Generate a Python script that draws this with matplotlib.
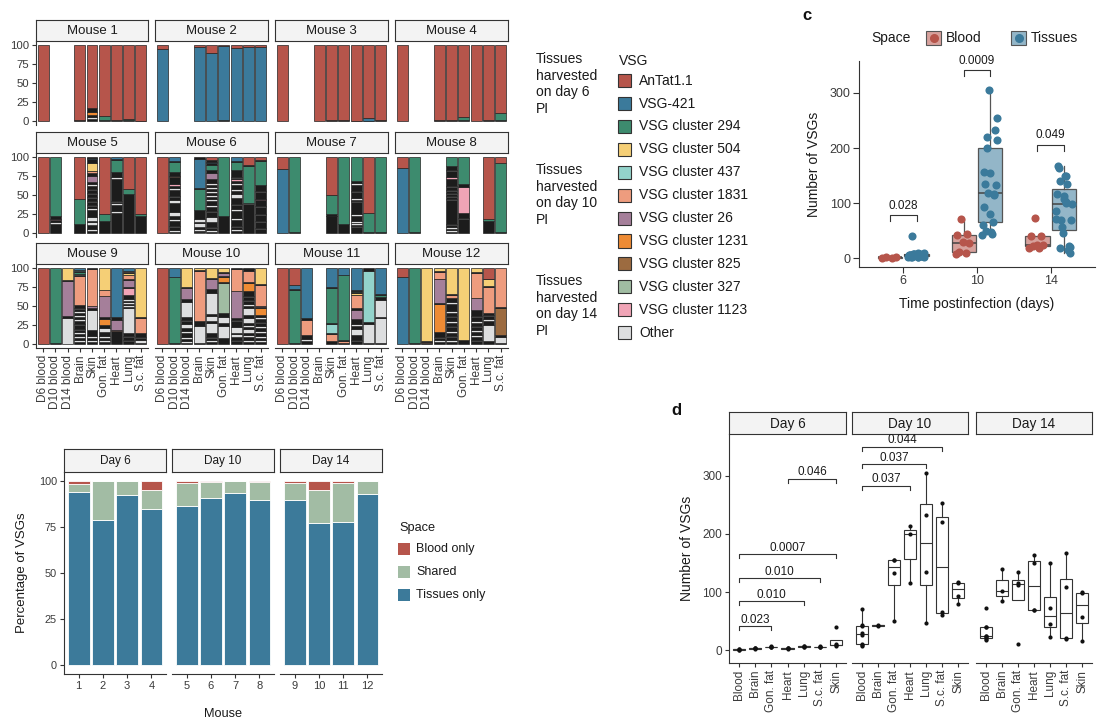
import numpy as np
import matplotlib
matplotlib.use("Agg")
import matplotlib.pyplot as plt
from matplotlib.patches import Rectangle
from matplotlib.lines import Line2D
from matplotlib.colors import to_rgba

plt.rcParams['font.family'] = ['Liberation Sans', 'DejaVu Sans']

W, H = 1111, 724

# ---------------- data ----------------
samples = ["D6 blood", "D10 blood", "D14 blood", "Brain", "Skin",
           "Gon. fat", "Heart", "Lung", "S.c. fat"]

vsg_keys = ["A", "V", "294", "504", "437", "1831", "26", "1231", "825", "327", "1123", "O"]
vsg_labels = ["AnTat1.1", "VSG-421", "VSG cluster 294", "VSG cluster 504",
              "VSG cluster 437", "VSG cluster 1831", "VSG cluster 26",
              "VSG cluster 1231", "VSG cluster 825", "VSG cluster 327",
              "VSG cluster 1123", "Other"]
vsg_colors = {"A": "#B6554B", "V": "#3B7A9B", "294": "#3D8B6E", "504": "#F5CF76",
              "437": "#93D3CB", "1831": "#EE9C7E", "26": "#A57F9A", "1231": "#EE8B34",
              "825": "#9C6B40", "327": "#A0BCA2", "1123": "#F0A4B6", "O": "#DDDEDF",
              "k": "#1c1c1c"}  # "k" = many tiny VSGs (outlines merge to black)

# segments bottom -> top, (vsg, percent)
mouse1 = {
    "D6 blood": [("A", 100)],
    "Brain": [("k", 2), ("A", 98)],
    "Skin": [("k", 3), ("O", 3), ("k", 2), ("1231", 4), ("k", 5), ("A", 83)],
    "Gon. fat": [("k", 1), ("294", 5.5), ("A", 93.5)],
    "Heart": [("k", 1), ("A", 99)],
    "Lung": [("k", 1), ("294", 2.5), ("A", 96.5)],
    "S.c. fat": [("k", 0.5), ("A", 99.5)],
}
mouse2 = {
    "D6 blood": [("V", 94), ("A", 6)],
    "Brain": [("V", 97), ("A", 3)],
    "Skin": [("V", 89), ("A", 11)],
    "Gon. fat": [("k", 1), ("V", 97), ("A", 2)],
    "Heart": [("V", 96), ("A", 4)],
    "Lung": [("V", 97.5), ("A", 2.5)],
    "S.c. fat": [("V", 97.5), ("A", 2.5)],
}
mouse3 = {
    "D6 blood": [("A", 100)],
    "Brain": [("A", 100)],
    "Skin": [("k", 1), ("A", 99)],
    "Gon. fat": [("k", 1), ("A", 99)],
    "Heart": [("k", 0.5), ("A", 99.5)],
    "Lung": [("k", 0.5), ("V", 3.5), ("A", 96)],
    "S.c. fat": [("k", 1), ("A", 99)],
}
mouse4 = {
    "D6 blood": [("A", 100)],
    "Brain": [("k", 1), ("A", 99)],
    "Skin": [("k", 1), ("A", 99)],
    "Gon. fat": [("k", 1), ("294", 4.5), ("A", 94.5)],
    "Heart": [("A", 100)],
    "Lung": [("k", 1), ("A", 99)],
    "S.c. fat": [("k", 1), ("294", 9.5), ("A", 89.5)],
}
mouse5 = {
    "D6 blood": [("A", 100)],
    "D10 blood": [("k", 12), ("O", 2), ("k", 3), ("1123", 2), ("k", 4), ("294", 77)],
    "Brain": [("k", 12), ("294", 33), ("A", 55)],
    "Skin": [("k", 3), ("O", 2), ("k", 5), ("O", 4), ("k", 1), ("O", 5), ("k", 9), ("O", 2),
             ("k", 2), ("O", 2), ("k", 3), ("O", 2), ("k", 3), ("O", 2), ("k", 3), ("O", 2),
             ("k", 3), ("O", 2), ("k", 3), ("O", 2), ("k", 3), ("26", 8), ("k", 3), ("1831", 2),
             ("k", 1), ("504", 9), ("k", 5), ("V", 2), ("k", 1)],
    "Gon. fat": [("k", 16), ("294", 9), ("A", 75)],
    "Heart": [("k", 27), ("O", 2), ("k", 9), ("O", 2), ("k", 1), ("O", 2), ("k", 30), ("O", 2),
              ("k", 7), ("294", 16), ("k", 1), ("V", 3)],
    "Lung": [("k", 51), ("294", 7), ("A", 42)],
    "S.c. fat": [("k", 22), ("294", 3), ("A", 75)],
}
mouse6 = {
    "D6 blood": [("A", 100)],
    "D10 blood": [("k", 2), ("O", 2), ("k", 4), ("O", 2), ("k", 6), ("O", 3), ("k", 4), ("O", 5),
                  ("k", 13), ("O", 3), ("k", 4), ("O", 2), ("k", 8), ("O", 2), ("k", 4),
                  ("1123", 2), ("k", 9), ("1831", 1.5), ("k", 6), ("294", 13), ("k", 1), ("V", 6)],
    "Brain": [("O", 2), ("k", 1), ("O", 3), ("k", 2), ("O", 5), ("k", 2), ("O", 3), ("k", 12),
              ("294", 28), ("k", 1), ("V", 38), ("k", 3)],
    "Skin": [("k", 2), ("O", 2), ("k", 2), ("O", 2), ("k", 6), ("O", 6), ("k", 6), ("O", 2),
             ("k", 4), ("O", 3), ("k", 5), ("O", 2), ("k", 3), ("O", 2), ("k", 3), ("O", 2),
             ("k", 3), ("O", 2), ("k", 3), ("O", 2), ("k", 6), ("26", 7), ("k", 3), ("294", 7),
             ("k", 2), ("V", 2), ("k", 2), ("A", 4)],
    "Gon. fat": [("k", 23), ("294", 77)],
    "Heart": [("k", 3), ("O", 2), ("k", 3), ("O", 2), ("k", 8), ("O", 2), ("k", 10), ("O", 2),
              ("k", 5), ("O", 2), ("k", 8), ("O", 6), ("k", 4), ("O", 2), ("k", 6), ("O", 2),
              ("k", 3), ("1123", 2), ("k", 2), ("O", 1), ("k", 9), ("294", 11), ("k", 1), ("V", 6)],
    "Lung": [("k", 38), ("O", 2), ("294", 48), ("k", 1), ("A", 11)],
    "S.c. fat": [("k", 5), ("O", 2), ("k", 8), ("O", 1), ("k", 8), ("O", 1), ("k", 10), ("O", 1),
                 ("k", 8), ("1123", 1), ("k", 10), ("O", 1), ("k", 8), ("294", 32), ("k", 1), ("A", 4)],
}
mouse7 = {
    "D6 blood": [("V", 84), ("A", 16)],
    "D10 blood": [("k", 1), ("294", 99)],
    "Skin": [("k", 22), ("O", 1), ("k", 2), ("294", 25), ("A", 50)],
    "Gon. fat": [("k", 12), ("294", 88)],
    "Heart": [("k", 8), ("O", 2), ("k", 1), ("O", 2), ("k", 1), ("O", 2), ("k", 7), ("O", 2),
              ("k", 16), ("O", 2), ("k", 1), ("O", 2), ("k", 8), ("O", 2), ("k", 8), ("O", 2),
              ("k", 3), ("294", 32)],
    "Lung": [("k", 2), ("294", 25), ("A", 73)],
    "S.c. fat": [("k", 2), ("294", 98)],
}
mouse8 = {
    "D6 blood": [("V", 86), ("A", 14)],
    "D10 blood": [("k", 1), ("294", 99)],
    "Skin": [("k", 2), ("O", 2), ("k", 2), ("O", 2), ("k", 2), ("O", 2), ("k", 30), ("O", 2),
             ("k", 2), ("O", 2), ("k", 2), ("O", 2), ("k", 2), ("O", 2), ("k", 3), ("O", 2),
             ("k", 8), ("1123", 3), ("k", 8), ("O", 1), ("k", 5), ("294", 12)],
    "Gon. fat": [("k", 18), ("O", 2), ("k", 6), ("1123", 35), ("k", 4), ("294", 35)],
    "Lung": [("k", 16), ("294", 2), ("A", 82)],
    "S.c. fat": [("k", 2), ("294", 90), ("A", 8)],
}
mouse9 = {
    "D6 blood": [("A", 100)],
    "D10 blood": [("k", 1), ("294", 99)],
    "D14 blood": [("O", 34), ("k", 3), ("26", 46), ("k", 1), ("504", 16)],
    "Brain": [("k", 3), ("O", 2), ("k", 3), ("O", 2), ("k", 3), ("O", 2), ("k", 3), ("O", 2),
              ("k", 4), ("O", 2), ("k", 4), ("O", 2), ("k", 3), ("O", 2), ("k", 3), ("O", 2),
              ("k", 3), ("O", 2), ("k", 3), ("1831", 37), ("k", 2), ("327", 1.5), ("294", 2),
              ("k", 1.5), ("437", 1), ("V", 3)],
    "Skin": [("k", 3), ("O", 2), ("k", 3), ("O", 2), ("k", 8), ("O", 25), ("k", 3), ("26", 3),
             ("1831", 46), ("k", 2)],
    "Gon. fat": [("k", 3), ("O", 2), ("k", 3), ("O", 2), ("k", 5), ("O", 6), ("k", 4),
                 ("1231", 7), ("k", 2), ("26", 27), ("1831", 8), ("504", 28)],
    "Heart": [("k", 17), ("1831", 1.5), ("26", 13), ("k", 4), ("V", 64.5)],
    "Lung": [("k", 4), ("O", 2), ("k", 3), ("O", 2), ("k", 3), ("O", 33), ("k", 2), ("O", 2),
             ("k", 2), ("O", 2), ("k", 2), ("O", 2), ("k", 6), ("1123", 8), ("k", 2), ("26", 9),
             ("k", 2), ("1831", 4), ("504", 3), ("k", 1), ("1831", 2), ("V", 4)],
    "S.c. fat": [("k", 2), ("O", 3), ("k", 3), ("O", 2), ("k", 4), ("1831", 20), ("k", 1), ("504", 65)],
}
mouse10 = {
    "D6 blood": [("A", 100)],
    "D10 blood": [("k", 1), ("294", 87), ("V", 12)],
    "D14 blood": [("k", 2), ("O", 2), ("k", 3), ("O", 2), ("k", 6), ("O", 2), ("k", 4), ("O", 6),
                  ("k", 3), ("O", 2), ("k", 3), ("O", 20), ("k", 4), ("26", 14), ("k", 2), ("504", 25)],
    "Brain": [("k", 2), ("O", 22), ("k", 6), ("1831", 66), ("k", 1), ("504", 3)],
    "Skin": [("k", 3), ("O", 2), ("k", 3), ("O", 2), ("k", 4), ("O", 14), ("k", 3), ("O", 6),
             ("k", 2), ("O", 28), ("k", 5), ("26", 13), ("k", 2), ("504", 13)],
    "Gon. fat": [("k", 8), ("O", 15), ("k", 4), ("O", 8), ("k", 5), ("327", 39), ("k", 1),
                 ("1231", 7), ("k", 2), ("26", 3), ("k", 1), ("504", 6)],
    "Heart": [("k", 4), ("O", 2), ("k", 4), ("O", 3), ("k", 2), ("O", 8), ("k", 7), ("O", 2),
              ("k", 2), ("26", 37), ("1831", 29), ("k", 1)],
    "Lung": [("k", 3), ("O", 2), ("k", 4), ("O", 2), ("k", 3), ("O", 4), ("k", 3), ("O", 2),
             ("k", 3), ("O", 6), ("k", 4), ("O", 8), ("k", 3), ("O", 2), ("k", 3), ("O", 2),
             ("k", 3), ("O", 2), ("k", 6), ("1231", 9), ("k", 2), ("1831", 13), ("k", 2),
             ("504", 1), ("k", 1)],
    "S.c. fat": [("k", 3), ("O", 2), ("k", 3), ("O", 2), ("k", 4), ("O", 3), ("k", 4), ("O", 2),
                 ("k", 4), ("O", 2), ("k", 4), ("O", 2), ("k", 3), ("1231", 9), ("k", 1),
                 ("26", 2), ("1831", 27), ("k", 1), ("504", 21)],
}
mouse11 = {
    "D6 blood": [("A", 100)],
    "D10 blood": [("k", 2), ("294", 69), ("k", 1), ("V", 6), ("A", 22)],
    "D14 blood": [("k", 4), ("O", 3), ("k", 5), ("1831", 20), ("k", 2), ("V", 66)],
    "Skin": [("k", 4), ("1831", 9), ("k", 2), ("437", 12), ("k", 1), ("294", 46), ("k", 1), ("V", 25)],
    "Gon. fat": [("k", 1), ("1831", 3), ("k", 1), ("294", 86), ("V", 9)],
    "Heart": [("k", 4), ("O", 2), ("k", 6), ("O", 8), ("k", 4), ("O", 2), ("k", 7), ("26", 12),
              ("k", 2), ("1831", 17), ("k", 1), ("504", 2), ("k", 1), ("294", 2), ("k", 1), ("V", 29)],
    "Lung": [("k", 1), ("O", 25), ("k", 3), ("437", 67), ("k", 4)],
    "S.c. fat": [("k", 2), ("O", 32), ("k", 2), ("O", 22), ("k", 4), ("294", 2), ("k", 2), ("V", 34)],
}
mouse12 = {
    "D6 blood": [("V", 88), ("A", 12)],
    "D10 blood": [("k", 1), ("294", 99)],
    "D14 blood": [("k", 1), ("1831", 2), ("k", 1), ("504", 96)],
    "Brain": [("k", 3), ("O", 2), ("k", 3), ("O", 2), ("k", 6), ("1231", 37), ("k", 1), ("26", 31),
              ("k", 1), ("1831", 8), ("k", 2), ("504", 4)],
    "Skin": [("k", 3), ("O", 2), ("k", 4), ("O", 2), ("k", 4), ("O", 2), ("k", 5), ("O", 2),
             ("k", 4), ("O", 2), ("k", 5), ("O", 2), ("k", 4), ("O", 2), ("k", 10), ("O", 2),
             ("k", 6), ("1831", 4), ("k", 1), ("504", 34)],
    "Gon. fat": [("k", 5), ("504", 95)],
    "Heart": [("k", 4), ("O", 2), ("k", 4), ("O", 2), ("k", 4), ("O", 2), ("k", 4), ("O", 2),
              ("k", 4), ("O", 2), ("k", 5), ("O", 2), ("k", 8), ("26", 16), ("1831", 32), ("k", 1),
              ("504", 6)],
    "Lung": [("k", 4), ("O", 21), ("k", 5), ("O", 2), ("k", 4), ("O", 2), ("k", 3), ("1831", 33),
             ("k", 1), ("504", 9), ("k", 1), ("A", 14)],
    "S.c. fat": [("k", 2), ("O", 8), ("k", 2), ("825", 36), ("k", 1), ("1831", 51)],
}
mice = [mouse1, mouse2, mouse3, mouse4, mouse5, mouse6,
        mouse7, mouse8, mouse9, mouse10, mouse11, mouse12]

# panel b: percentage of VSGs per mouse
b_mouse = [1, 2, 3, 4, 5, 6, 7, 8, 9, 10, 11, 12]
tissues_only = [94.2, 78.6, 92.7, 85.1, 86.6, 91.1, 93.5, 89.7, 89.8, 77.1, 77.9, 93.1]
shared = [4.0, 21.4, 7.3, 10.0, 12.3, 8.4, 6.5, 9.9, 9.3, 18.0, 21.2, 6.9]
blood_only = [1.8, 0.0, 0.0, 4.9, 1.1, 0.5, 0.0, 0.4, 0.9, 4.9, 0.9, 0.0]
space_colors = {"Blood only": "#B6554B", "Shared": "#A2BCA4", "Tissues only": "#3C7A9A"}

# panels c/d: number of VSGs per sample
d_sites = ["Blood", "Brain", "Gon. fat", "Heart", "Lung", "S.c. fat", "Skin"]
counts_day6 = {
    "Blood": [1, 1, 2, 2], "Brain": [2, 3, 3, 4], "Gon. fat": [5, 6, 6, 7],
    "Heart": [2, 3, 3, 4], "Lung": [5, 6, 7, 7], "S.c. fat": [5, 6, 6, 7],
    "Skin": [8, 9, 10, 40],
}
counts_day10 = {
    "Blood": [8, 9, 11, 27, 29, 42, 44, 71], "Brain": [42, 44],
    "Gon. fat": [50, 133, 155, 156], "Heart": [115, 200, 214],
    "Lung": [47, 135, 233, 305], "S.c. fat": [60, 66, 220, 254],
    "Skin": [80, 93, 116, 118],
}
counts_day14 = {
    "Blood": [18, 19, 22, 24, 24, 40, 40, 73], "Brain": [85, 102, 140],
    "Gon. fat": [10, 113, 116, 134], "Heart": [69, 70, 150, 163],
    "Lung": [22, 45, 72, 150], "S.c. fat": [19, 21, 108, 168],
    "Skin": [15, 57, 98, 100],
}
days = [6, 10, 14]
day_counts = [counts_day6, counts_day10, counts_day14]
c_pvals = ["0.028", "0.0009", "0.049"]
c_bracket_y = [78, 341, 206]
d_tests = {
    6: [("Blood", "Gon. fat", 41, "0.023"), ("Blood", "Lung", 84, "0.010"),
        ("Blood", "S.c. fat", 124, "0.010"), ("Blood", "Skin", 165, "0.0007"),
        ("Heart", "Skin", 295, "0.046")],
    10: [("Blood", "Heart", 283, "0.037"), ("Blood", "Lung", 320, "0.037"),
         ("Blood", "S.c. fat", 350, "0.044")],
    14: [],
}

# ---------------- helpers ----------------
TXT = "#1a1a1a"
TCK = "#3a3a3a"


def box(x0, y0, x1, y1):
    return [x0 / W, 1 - y1 / H, (x1 - x0) / W, (y1 - y0) / H]


def strip(x0, y0, x1, y1, label, size):
    s = fig.add_axes(box(x0, y0, x1, y1))
    s.set_facecolor("#F3F3F3")
    s.set_xticks([])
    s.set_yticks([])
    for sp in s.spines.values():
        sp.set_linewidth(0.8)
        sp.set_color("#333333")
    s.text(0.5, 0.47, label, ha="center", va="center", fontsize=size, color=TXT,
           transform=s.transAxes)


def style(ax, left, bottom, size):
    for side in ["top", "right"]:
        ax.spines[side].set_visible(False)
    ax.spines["left"].set_visible(left)
    ax.spines["bottom"].set_visible(bottom)
    for side in ["left", "bottom"]:
        ax.spines[side].set_linewidth(0.8)
        ax.spines[side].set_color("#333333")
    ax.tick_params(length=3, width=0.8, color="#333333", labelcolor=TCK,
                   labelsize=size, pad=2)
    ax.set_facecolor("none")


def bracket(ax, x1, x2, y, depth, label, size, gap):
    ax.plot([x1, x1, x2, x2], [y - depth, y, y, y - depth], color="#333333",
            lw=0.8, clip_on=False)
    ax.text((x1 + x2) / 2, y + gap, label, ha="center", va="center",
            fontsize=size, color=TXT, clip_on=False)


def swatch(x0, y0, x1, y1, color, edge="#333333"):
    fig.add_artist(Rectangle((x0 / W, 1 - y1 / H), (x1 - x0) / W, (y1 - y0) / H,
                             facecolor=color, edgecolor=edge, lw=0.8,
                             transform=fig.transFigure))


fig = plt.figure(figsize=(W / 100, H / 100), dpi=100)

# ---------------- panel a ----------------
a_cols = [(36, 148), (155, 268), (275, 388), (395, 508)]
a_rows = [(20, 41, 125), (132, 153, 237), (243, 264, 348)]
for i, m in enumerate(mice):
    r, c = divmod(i, 4)
    x0, x1 = a_cols[c]
    s0, top, bot = a_rows[r]
    strip(x0, s0, x1, top, f"Mouse {i + 1}", 9.5)
    ax = fig.add_axes(box(x0, top, x1, bot))
    for j, name in enumerate(samples):
        if name not in m:
            continue
        segs = m[name]
        total = sum(v for _, v in segs)
        base = 0.0
        for key, v in segs:
            h = v / total * 100
            ax.bar(j + 1, h, bottom=base, width=0.9, color=vsg_colors[key],
                   edgecolor="#222222", linewidth=0.5)
            base += h
    ax.set_xlim(0.4, 9.6)
    ax.set_ylim(-5, 105)
    style(ax, c == 0, r == 2, 8.2)
    if c == 0:
        ax.set_yticks([0, 25, 50, 75, 100])
    else:
        ax.set_yticks([])
    if r == 2:
        ax.set_xticks(range(1, 10))
        ax.set_xticklabels(samples, rotation=90, fontsize=8.5)
    else:
        ax.set_xticks([])

for yc, d in zip([84, 195, 306], [6, 10, 14]):
    fig.text(536 / W, 1 - yc / H, f"Tissues\nharvested\non day {d}\nPI", fontsize=10,
             color=TXT, ha="left", va="center", linespacing=1.25)

fig.text(619 / W, 1 - 61 / H, "VSG", fontsize=10, color=TXT, ha="left", va="center")
for k, (key, lab) in enumerate(zip(vsg_keys, vsg_labels)):
    yc = 80.7 + k * 22.9
    swatch(618, yc - 6.5, 631, yc + 6.5, vsg_colors[key])
    fig.text(639 / W, 1 - yc / H, lab, fontsize=10, color=TXT, ha="left", va="center")

# ---------------- panel b ----------------
b_cols = [(64, 166), (172, 274), (280, 382)]
for k, (x0, x1) in enumerate(b_cols):
    strip(x0, 449, x1, 472, f"Day {days[k]}", 8.5)
    ax = fig.add_axes(box(x0, 472, x1, 674))
    sl = slice(4 * k, 4 * k + 4)
    pos = np.arange(1, 5)
    t = np.array(tissues_only[sl])
    s = np.array(shared[sl])
    b = np.array(blood_only[sl])
    ax.bar(pos, t, width=0.9, color=space_colors["Tissues only"], edgecolor="white", lw=0.6)
    ax.bar(pos, s, bottom=t, width=0.9, color=space_colors["Shared"], edgecolor="white", lw=0.6)
    ax.bar(pos, b, bottom=t + s, width=0.9, color=space_colors["Blood only"],
           edgecolor="white", lw=0.6)
    ax.set_xlim(0.4, 4.6)
    ax.set_ylim(-5, 105)
    style(ax, k == 0, True, 7.8)
    ax.set_xticks(pos)
    ax.set_xticklabels([str(v) for v in b_mouse[sl]], fontsize=8)
    if k == 0:
        ax.set_yticks([0, 25, 50, 75, 100])
    else:
        ax.set_yticks([])
fig.text(22 / W, 1 - 573 / H, "Percentage of VSGs", rotation=90, fontsize=9.5,
         color=TXT, ha="center", va="center")
fig.text(223 / W, 1 - 714 / H, "Mouse", fontsize=9.2, color=TXT, ha="center", va="center")
fig.text(399 / W, 1 - 528 / H, "Space", fontsize=9.2, color=TXT, ha="left", va="center")
for k, lab in enumerate(["Blood only", "Shared", "Tissues only"]):
    yc = 549 + k * 23
    swatch(398, yc - 6, 410, yc + 6, space_colors[lab], edge="none")
    fig.text(416 / W, 1 - yc / H, lab, fontsize=9, color=TXT, ha="left", va="center")

# ---------------- panel c ----------------
blood_c = "#B6554B"
tissue_c = "#3B7A9B"
ax = fig.add_axes(box(859, 61, 1095, 267))
for i, cnt in enumerate(day_counts):
    bl = cnt["Blood"]
    ti = [v for site in d_sites[1:] for v in cnt[site]]
    for vals, off, col in [(bl, -0.18, blood_c), (ti, 0.18, tissue_c)]:
        ax.boxplot([vals], positions=[i + off], widths=0.33, patch_artist=True,
                   showcaps=False, showfliers=False, manage_ticks=False,
                   boxprops=dict(facecolor=to_rgba(col, 0.55), edgecolor="#555555", lw=0.9),
                   medianprops=dict(color="#444444", lw=1.1),
                   whiskerprops=dict(color="#555555", lw=0.9))
        n = len(vals)
        jit = ((np.arange(n) * 0.618) % 1 - 0.5) * 0.22
        ax.scatter(i + off + jit, vals, s=34, color=col, zorder=4, lw=0)
    bracket(ax, i - 0.18, i + 0.18, c_bracket_y[i], 11, c_pvals[i], 8.5, 17)
ax.set_xlim(-0.6, 2.6)
ax.set_ylim(-16, 358)
style(ax, True, True, 9)
ax.tick_params(length=4)
ax.set_xticks(range(3))
ax.set_xticklabels([str(d) for d in days])
ax.set_yticks([0, 100, 200, 300])
ax.set_xlabel("Time postinfection (days)", fontsize=10, color=TXT, labelpad=7)
ax.set_ylabel("Number of VSGs", fontsize=10, color=TXT, labelpad=6)
fig.text(807 / W, 1 - 15 / H, "c", fontsize=12, fontweight="bold", color="#111111",
         ha="center", va="center")
fig.text(871 / W, 1 - 38 / H, "Space", fontsize=10, color=TXT, ha="left", va="center")
for x0, col, lab in [(926, blood_c, "Blood"), (1011, tissue_c, "Tissues")]:
    swatch(x0, 31, x0 + 15, 45, to_rgba(col, 0.55), edge="#555555")
    fig.add_artist(Line2D([(x0 + 7.5) / W], [1 - 38 / H], marker="o", ms=5.5,
                          color=col, transform=fig.transFigure))
    fig.text((x0 + 20) / W, 1 - 38 / H, lab, fontsize=10, color=TXT, ha="left", va="center")

# ---------------- panel d ----------------
d_cols = [(729, 846), (852, 968), (976, 1092)]
for k, (x0, x1) in enumerate(d_cols):
    strip(x0, 412, x1, 434, f"Day {days[k]}", 9.8)
    ax = fig.add_axes(box(x0, 434, x1, 663))
    cnt = day_counts[k]
    for p, site in enumerate(d_sites):
        vals = cnt[site]
        ax.boxplot([vals], positions=[p], widths=0.75, patch_artist=True,
                   showcaps=False, showfliers=False, manage_ticks=False,
                   boxprops=dict(facecolor="white", edgecolor="#333333", lw=0.8),
                   medianprops=dict(color="#333333", lw=0.8),
                   whiskerprops=dict(color="#333333", lw=0.8))
        ax.scatter([p] * len(vals), vals, s=9, color="#111111", zorder=4, lw=0)
    for a, b2, y, lab in d_tests[days[k]]:
        bracket(ax, d_sites.index(a), d_sites.index(b2), y, 7, lab, 8.5, 11)
    ax.set_xlim(-0.6, 6.6)
    ax.set_ylim(-22, 372)
    style(ax, k == 0, True, 8.5)
    ax.set_xticks(range(7))
    ax.set_xticklabels(d_sites, rotation=90, fontsize=8.5)
    if k == 0:
        ax.set_yticks([0, 100, 200, 300])
        ax.set_ylabel("Number of VSGs", fontsize=10, color=TXT, labelpad=6)
    else:
        ax.set_yticks([])
fig.text(676 / W, 1 - 410 / H, "d", fontsize=12, fontweight="bold", color="#111111",
         ha="center", va="center")

fig.savefig("out.png", dpi=100, facecolor="white")
